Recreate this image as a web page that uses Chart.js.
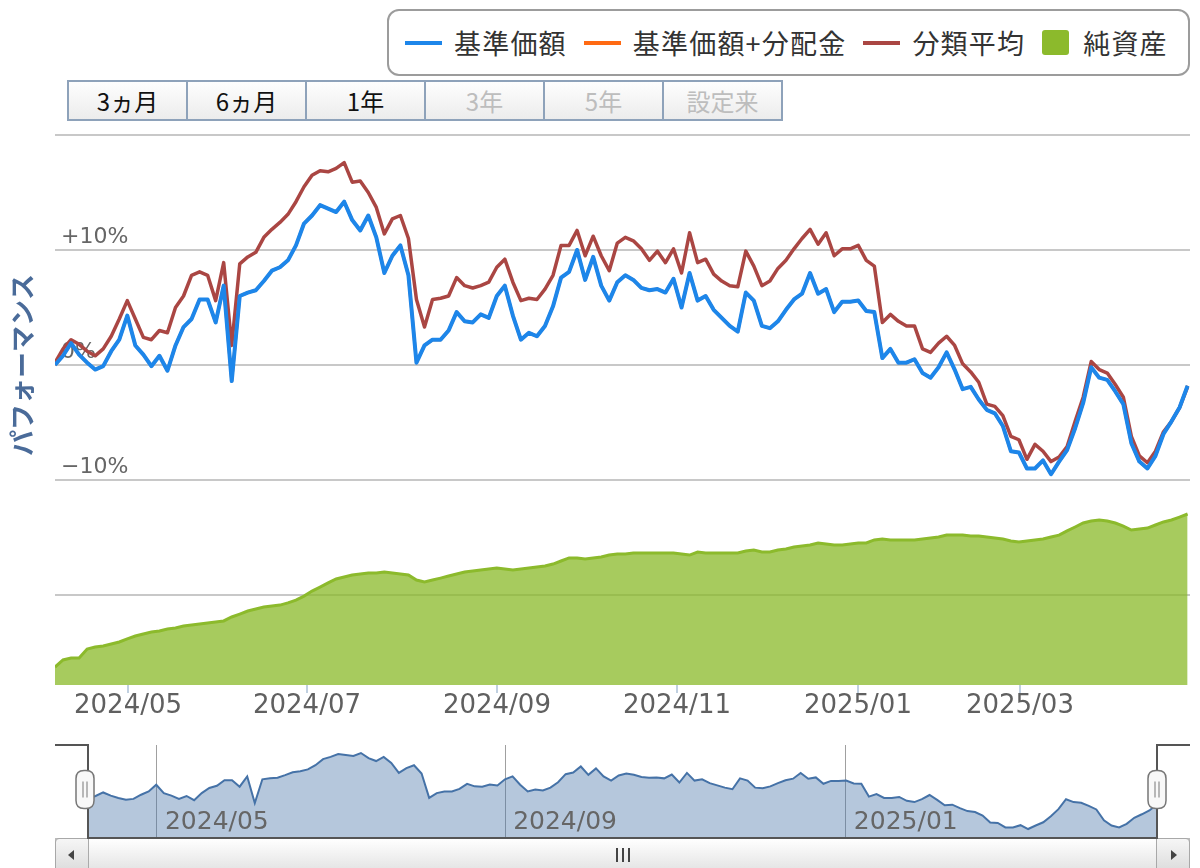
<!DOCTYPE html>
<html lang="ja">
<head>
<meta charset="utf-8">
<title>パフォーマンス</title>
<script src="https://cdn.jsdelivr.net/npm/chart.js@4.4.1/dist/chart.umd.min.js"></script>
<style>
  body { margin: 0; width: 1200px; height: 868px; overflow: hidden; position: relative; background: #fff;
         font-family: 'Noto Sans CJK JP', sans-serif; }
  #legend { position: absolute; left: 387px; top: 9px; width: 803px; height: 67px; box-sizing: border-box;
            border: 2px solid #9c9c9c; border-radius: 12px; display: flex; align-items: center; padding-left: 16px; }
  .item { display: flex; align-items: center; margin-right: 17px; font-size: 27px; color: #333; line-height: 1;
          letter-spacing: 1.2px; }
  .item .line { width: 37px; height: 4px; margin-right: 12px; }
  .item .box { width: 27px; height: 25px; border-radius: 3px; margin-right: 14px; }
  #ranges { position: absolute; left: 67px; top: 80px; display: flex; }
  .btn { width: 121px; height: 41px; box-sizing: border-box; margin-right: -2px; border: 2px solid #8ea2ba;
         background: linear-gradient(#fefefe, #ececec); display: flex; align-items: center; justify-content: center;
         font-size: 24px; color: #111; }
  .btn.off { color: #bdbdbd; }
  canvas { position: absolute; left: 0; }
  #mainChart { top: 125px; }
  #navChart { top: 740px; z-index: 2; }
  .sb { position: absolute; top: 838px; height: 34px; box-sizing: border-box; }
  #sbTrack { left: 55px; width: 1135px; background: #eee; border: 1px solid #bbb; }
  .sb.btnl, .sb.btnr { width: 34px; background: linear-gradient(#f6f6f6, #dcdcdc); border: 1px solid #a8a8a8; }
  .sb.btnl { left: 55px; border-radius: 4px 0 0 4px; }
  .sb.btnr { left: 1156px; border-radius: 0 4px 4px 0; }
  .sb.btnl span, .sb.btnr span { position: absolute; top: 11px; width: 0; height: 0; border-style: solid; }
  .sb.btnl span { left: 12px; border-width: 5px 6px 5px 0; border-color: transparent #444 transparent transparent; }
  .sb.btnr span { left: 14px; border-width: 5px 0 5px 6px; border-color: transparent transparent transparent #444; }
  #sbThumb { left: 88px; width: 1069px; background: linear-gradient(#ffffff, #e3e3e3); border: 1px solid #aaa;
             display: flex; justify-content: center; padding-top: 9px; }
  #sbThumb i { display: block; width: 2px; height: 14px; background: #444; margin: 0 2px; }
</style>
</head>
<body>

<div id="legend"></div>
<div id="ranges"></div>

<canvas id="mainChart" width="1200" height="610"></canvas>

<div class="sb" id="sbTrack"></div>
<div class="sb btnl"><span></span></div>
<div class="sb" id="sbThumb"><i></i><i></i><i></i></div>
<div class="sb btnr"><span></span></div>
<canvas id="navChart" width="1200" height="105"></canvas>

<script>
// 系列名（凡例の順）
const seriesNames = ['基準価額', '基準価額+分配金', '分類平均', '純資産'];
const seriesColors = ['#1d86ea', '#ff6a13', '#aa4643', '#8cba2c'];

// 期間ボタン
const rangeLabels = ['3ヵ月', '6ヵ月', '1年', '3年', '5年', '設定来'];
const rangeEnabled = [true, true, true, false, false, false];

// 基準価額 騰落率(%)  2024/04 〜 2025/04, ほぼ2営業日おき
const perfValues = [
  0.0, 0.8, 1.9, 0.9, 0.2, -0.4, -0.1, 1.2, 2.2, 4.3,
  1.7, 0.9, -0.1, 0.8, -0.5, 1.7, 3.3, 4.0, 5.7, 5.7,
  3.7, 6.9, -1.4, 6.0, 6.3, 6.5, 7.3, 8.2, 8.5, 9.1,
  10.4, 12.3, 13.0, 13.9, 13.6, 13.3, 14.2, 12.6, 11.7, 13.0,
  11.1, 8.0, 9.5, 10.4, 7.8, 0.2, 1.7, 2.2, 2.2, 3.0,
  4.6, 3.8, 3.7, 4.4, 4.1, 6.0, 6.9, 4.3, 2.2, 2.8,
  2.5, 3.4, 5.1, 7.6, 8.1, 10.0, 7.4, 9.4, 6.9, 5.6,
  7.2, 7.8, 7.4, 6.7, 6.5, 6.6, 6.3, 7.5, 5.0, 8.0,
  5.6, 6.0, 4.8, 4.1, 3.4, 2.9, 6.3, 5.6, 3.4, 3.2,
  3.8, 4.8, 5.7, 6.2, 8.0, 6.2, 6.6, 4.6, 5.5, 5.5,
  5.6, 4.7, 4.6, 0.6, 1.4, 0.2, 0.2, 0.5, -0.7, -1.1,
  -0.2, 1.1, -0.4, -2.1, -1.9, -3.0, -3.9, -4.2, -5.3, -7.5,
  -7.6, -9.0, -9.0, -8.3, -9.5, -8.4, -7.4, -5.5, -3.3, -0.2,
  -1.1, -1.3, -2.3, -3.4, -6.8, -8.4, -9.0, -7.9, -6.0, -4.9,
  -3.7, -1.8
];

// 基準価額+分配金: 分配なしのため基準価額と同じ線（青線の下に隠れる）
const distAdjValues = perfValues;

// 分類平均 騰落率(%)
const avgValues = [
  0.2, 1.4, 2.2, 1.8, 1.2, 0.8, 1.4, 2.5, 4.0, 5.6,
  4.0, 2.4, 2.2, 3.0, 2.8, 5.0, 6.0, 7.8, 8.1, 7.8,
  5.6, 8.9, 1.7, 8.8, 9.4, 9.8, 11.1, 11.8, 12.4, 13.1,
  14.2, 15.5, 16.5, 16.9, 16.8, 17.1, 17.6, 15.9, 16.0, 15.0,
  13.7, 11.4, 12.7, 13.0, 11.0, 5.7, 3.3, 5.7, 5.8, 6.0,
  7.6, 6.9, 6.7, 6.9, 7.2, 8.5, 9.2, 7.2, 5.6, 5.8,
  5.7, 6.6, 7.8, 10.4, 10.4, 11.7, 9.5, 11.2, 9.5, 8.2,
  10.6, 11.1, 10.8, 10.1, 9.1, 9.9, 8.9, 10.1, 8.0, 11.5,
  8.9, 9.2, 7.9, 7.3, 6.9, 6.8, 9.9, 8.6, 6.9, 7.3,
  8.4, 9.1, 10.1, 11.0, 11.8, 10.5, 11.5, 9.5, 10.1, 10.1,
  10.4, 9.1, 8.6, 3.7, 4.4, 3.8, 3.4, 3.4, 1.4, 1.1,
  1.9, 2.5, 1.7, 0.1, -0.6, -1.5, -3.4, -3.6, -4.4, -6.2,
  -6.5, -8.2, -6.9, -7.5, -8.4, -8.0, -7.1, -4.9, -2.8, 0.3,
  -0.4, -0.7, -1.7, -2.8, -6.2, -7.9, -8.5, -7.5, -5.8, -4.9,
  -3.7, -1.9
];

// 純資産（億円, 目盛なしの相対値）
const netAssetsValues = [
  10.0, 13.9, 15.0, 15.0, 20.0, 21.1, 21.7, 22.8, 23.9, 25.6,
  27.2, 28.3, 29.4, 30.0, 31.1, 31.7, 32.8, 33.3, 33.9, 34.4,
  35.0, 35.6, 37.8, 39.4, 41.1, 42.2, 43.3, 43.9, 44.4, 45.6,
  47.2, 49.4, 52.2, 54.4, 56.7, 58.9, 60.0, 61.1, 61.7, 62.2,
  62.2, 62.8, 62.2, 61.7, 61.1, 58.3, 57.2, 58.3, 59.4, 60.6,
  61.7, 62.8, 63.3, 63.9, 64.4, 65.0, 64.4, 63.9, 64.4, 65.0,
  65.6, 66.1, 67.2, 68.9, 70.6, 70.6, 70.0, 70.6, 71.1, 72.2,
  72.8, 72.8, 73.3, 73.3, 73.3, 73.3, 73.3, 73.3, 72.8, 72.2,
  73.9, 73.3, 73.3, 73.3, 73.3, 73.3, 74.4, 75.0, 73.9, 73.9,
  75.0, 75.6, 76.7, 77.2, 77.8, 78.9, 78.3, 77.8, 77.8, 78.3,
  78.9, 78.9, 80.6, 81.1, 80.6, 80.6, 80.6, 80.6, 81.1, 81.7,
  82.2, 83.3, 83.3, 83.3, 82.8, 82.8, 82.2, 81.7, 81.1, 80.0,
  79.4, 80.0, 80.6, 81.1, 82.2, 83.3, 85.6, 87.8, 90.0, 91.1,
  91.7, 91.1, 90.0, 88.3, 86.1, 86.7, 87.2, 88.9, 90.6, 91.7,
  93.3, 95.0
];

// 横軸: サンプル番号、月初の位置と表示
const sampleIdx = perfValues.map((_, i) => i);
const monthTickIdx = [9.09, 31.37, 55.02, 77.43, 99.96, 120.13];
const monthTickLabels = ['2024/05', '2024/07', '2024/09', '2024/11', '2025/01', '2025/03'];
const navTickIdx = [monthTickIdx[0], monthTickIdx[2], monthTickIdx[4]];
const navTickLabels = [monthTickLabels[0], monthTickLabels[2], monthTickLabels[4]];

// 縦軸目盛
const perfTicks = [-20, -10, 0, 10, 20];
const perfTickLabels = ['', '\u221210%', '0%', '+10%', ''];

// 凡例
const legend = document.getElementById('legend');
seriesNames.forEach((name, i) => {
  const item = document.createElement('div');
  item.className = 'item';
  const sym = document.createElement('span');
  sym.className = i === 3 ? 'box' : 'line';
  sym.style.background = seriesColors[i];
  item.appendChild(sym);
  item.appendChild(document.createTextNode(name));
  legend.appendChild(item);
});

// 期間ボタン
const ranges = document.getElementById('ranges');
rangeLabels.forEach((t, i) => {
  const b = document.createElement('div');
  b.className = 'btn' + (rangeEnabled[i] ? '' : ' off');
  b.textContent = t;
  ranges.appendChild(b);
});

Chart.defaults.font.family = "'DejaVu Sans', sans-serif";

// ラベル分の余白を取らない
const noPad = s => { s.paddingTop = 0; s.paddingBottom = 0; s.paddingLeft = 0; s.paddingRight = 0; };

const mainChart = new Chart(document.getElementById('mainChart'), {
  type: 'line',
  data: {
    labels: sampleIdx,
    datasets: [
      { label: seriesNames[0], data: perfValues, yAxisID: 'yPerf', borderColor: seriesColors[0],
        borderWidth: 4, pointRadius: 0, fill: false, borderJoinStyle: 'round' },
      { label: seriesNames[1], data: distAdjValues, yAxisID: 'yPerf', borderColor: seriesColors[1],
        borderWidth: 3, pointRadius: 0, fill: false, borderJoinStyle: 'round' },
      { label: seriesNames[2], data: avgValues, yAxisID: 'yPerf', borderColor: seriesColors[2],
        borderWidth: 3.5, pointRadius: 0, fill: false, borderJoinStyle: 'round' },
      { label: seriesNames[3], data: netAssetsValues, yAxisID: 'yAssets', borderColor: seriesColors[3],
        backgroundColor: 'rgba(137,185,40,0.75)', borderWidth: 3, pointRadius: 0, fill: 'origin' }
    ]
  },
  options: {
    responsive: false,
    animation: false,
    layout: { padding: { left: 0, right: 10, top: 10, bottom: 0 } },
    plugins: { legend: { display: false }, tooltip: { enabled: false } },
    scales: {
      x: {
        type: 'linear', min: 0, max: 141.3,
        afterBuildTicks: s => { s.ticks = monthTickIdx.map(v => ({ value: v })); },
        afterFit: s => { s.height = 50; noPad(s); },
        grid: { drawOnChartArea: false, tickLength: 8, tickColor: '#c0d0e0', lineWidth: 2 },
        border: { display: false },
        ticks: { autoSkip: false, maxRotation: 0, padding: -2, color: '#606060',
                 font: { size: 26 }, callback: (v, i) => monthTickLabels[i] }
      },
      yPerf: {
        position: 'left', stack: 'left', stackWeight: 460, weight: 2, min: -20, max: 20,
        afterBuildTicks: s => { s.ticks = perfTicks.map(v => ({ value: v })); },
        afterFit: s => { s.width = 55; noPad(s); },
        grid: { color: '#c8c8c8', lineWidth: 2, drawTicks: false },
        border: { display: false },
        ticks: { mirror: true, padding: 6, labelOffset: -13, color: '#666',
                 font: { size: 22 }, callback: (v, i) => perfTickLabels[i] },
        title: { display: true, text: 'パフォーマンス', color: '#4a6b99',
                 font: { family: "'Noto Sans CJK JP'", size: 26, weight: 'bold' },
                 padding: { top: 7, bottom: 0 } }
      },
      yGap: { position: 'left', stack: 'left', stackWeight: 90, weight: 1, display: false },
      yAssets: { position: 'left', display: false, min: 0, max: 305.6 }
    }
  }
});

// ナビゲーター枠・ハンドル・目盛ラベル
const navigatorDecor = {
  id: 'navigatorDecor',
  afterDatasetsDraw(chart) {
    const { ctx, chartArea, scales } = chart;
    ctx.save();
    ctx.fillStyle = '#666';
    ctx.font = "25px 'DejaVu Sans'";
    ctx.textAlign = 'left';
    ctx.textBaseline = 'middle';
    navTickIdx.forEach((v, i) => {
      ctx.fillText(navTickLabels[i], scales.x.getPixelForValue(v) + 8, chartArea.bottom - 16);
    });
    ctx.restore();
  },
  afterDraw(chart) {
    const { ctx, chartArea: a } = chart;
    ctx.save();
    ctx.strokeStyle = '#555';
    ctx.lineWidth = 2;
    ctx.beginPath();
    ctx.moveTo(a.left - 33, a.top); ctx.lineTo(a.left, a.top); ctx.lineTo(a.left, a.bottom);
    ctx.lineTo(a.right, a.bottom); ctx.lineTo(a.right, a.top); ctx.lineTo(a.right + 33, a.top);
    ctx.stroke();
    const cy = (a.top + a.bottom) / 2 - 2;
    [a.left - 3, a.right].forEach(cx => {
      const w = 18, h = 38, r = 8, x = cx - w / 2, y = cy - h / 2;
      ctx.beginPath();
      ctx.moveTo(x + r, y); ctx.lineTo(x + w - r, y); ctx.quadraticCurveTo(x + w, y, x + w, y + r);
      ctx.lineTo(x + w, y + h - r); ctx.quadraticCurveTo(x + w, y + h, x + w - r, y + h);
      ctx.lineTo(x + r, y + h); ctx.quadraticCurveTo(x, y + h, x, y + h - r);
      ctx.lineTo(x, y + r); ctx.quadraticCurveTo(x, y, x + r, y);
      ctx.closePath();
      ctx.fillStyle = '#f8f8f8';
      ctx.fill();
      ctx.strokeStyle = '#777';
      ctx.lineWidth = 1.5;
      ctx.stroke();
      ctx.beginPath();
      ctx.moveTo(cx - 2, cy - 8); ctx.lineTo(cx - 2, cy + 8);
      ctx.moveTo(cx + 2, cy - 8); ctx.lineTo(cx + 2, cy + 8);
      ctx.lineWidth = 1;
      ctx.stroke();
    });
    ctx.restore();
  }
};

const navChart = new Chart(document.getElementById('navChart'), {
  type: 'line',
  data: {
    labels: sampleIdx,
    datasets: [{ data: perfValues, borderColor: '#4572a7', borderWidth: 2,
                 backgroundColor: 'rgba(69,114,167,0.4)', fill: 'start', pointRadius: 0 }]
  },
  options: {
    responsive: false,
    animation: false,
    layout: { padding: { left: 88, right: 43, top: 5, bottom: 7 } },
    plugins: { legend: { display: false }, tooltip: { enabled: false } },
    scales: {
      x: {
        type: 'linear', min: 0, max: 141,
        afterBuildTicks: s => { s.ticks = navTickIdx.map(v => ({ value: v })); },
        afterFit: s => { s.height = 0; noPad(s); },
        grid: { color: '#a0a0a0', lineWidth: 1, drawTicks: false },
        border: { display: false },
        ticks: { display: false }
      },
      y: { display: false, min: -12.3, max: 16.7 }
    }
  },
  plugins: [navigatorDecor]
});
</script>
</body>
</html>
